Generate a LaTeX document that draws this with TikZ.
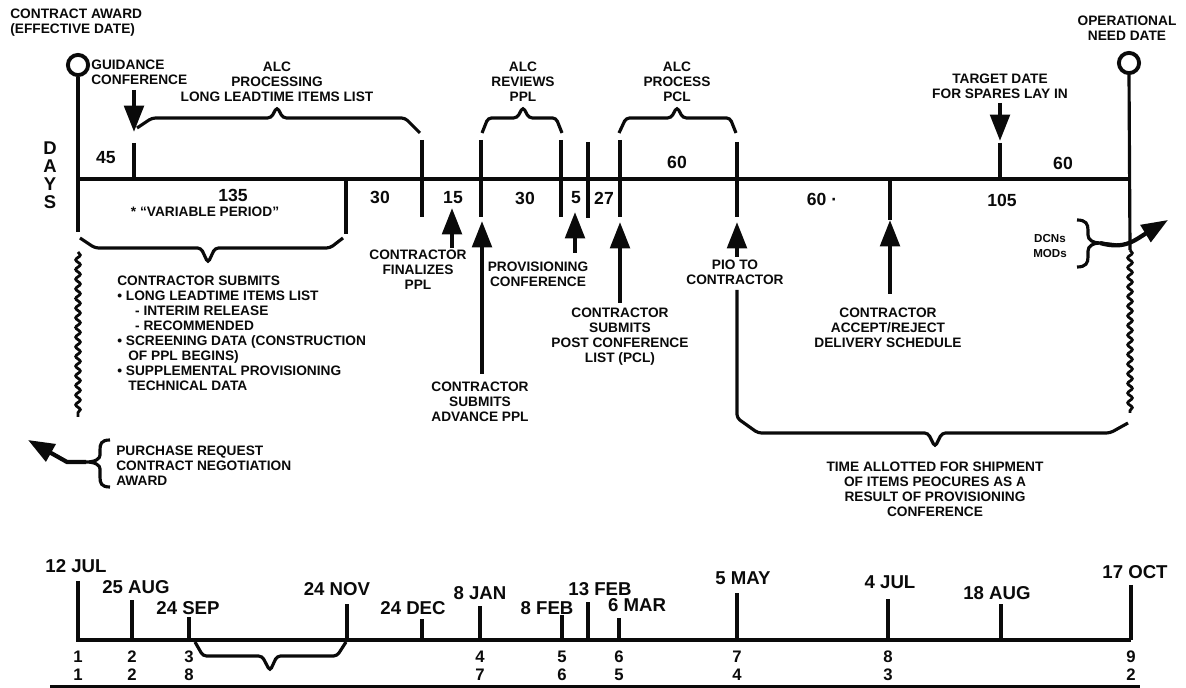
\documentclass[tikz,border=0pt]{standalone}
\usepackage{fontspec}
\setmainfont{Liberation Sans}
\usepackage{tikz}
\usetikzlibrary{arrows.meta,positioning,decorations.pathmorphing}
\definecolor{ink}{RGB}{10,10,10}

\begin{document}
\begin{tikzpicture}[x=0.02cm, y=-0.02cm, every node/.style={inner sep=0pt, text=ink},
  lbl/.style={font=\fontsize{7.8}{8.5}\selectfont\bfseries, align=center},
  numlbl/.style={font=\fontsize{10}{12}\selectfont\bfseries},
  datelbl/.style={font=\fontsize{10.6}{12}\selectfont\bfseries},
  digitlbl/.style={font=\fontsize{9.5}{11}\selectfont\bfseries},
  tline/.style={ink, line width=1.8pt},
  tickln/.style={ink, line width=2.2pt},
  arr/.style={ink, line width=2.4pt, -{Triangle[length=15pt, width=11pt]}},
  bracket/.style={ink, line width=1.8pt, rounded corners=2pt},
  wavy/.style={ink, line width=1.6pt, decorate, decoration={snake, segment length=5.5pt, amplitude=1.3pt}},
  ring/.style={circle, draw=ink, line width=2.2pt, minimum size=11.5pt}]
  \useasboundingbox (0,0) rectangle (1186,688);
  \node[ring] (startRing) at (78,65) {};
  \node[ring] (needRing) at (1129,63) {};
  \draw[tline] (startRing.south) -- (78,232);
  \draw[tline] (needRing.south) -- (1130,250);
  \draw[tline] (78,179) -- (1130,179);
  \foreach \x/\a/\b in {134/143/179, 346/179/234, 422/140/217, 481/140/217, 561/140/217, 588/142/218, 620/140/217, 737/142/217, 890/179/220, 1000/143/179}
    \draw[tickln] (\x,\a) -- (\x,\b);
  \node[lbl, anchor=west, align=left] (award) at (10,23) {CONTRACT AWARD\\(EFFECTIVE DATE)};
  \node[lbl, anchor=west, align=left] (guide) at (91,72) {GUIDANCE\\CONFERENCE};
  \node[lbl] (alcProc) at (277,82) {ALC\\PROCESSING\\LONG LEADTIME ITEMS LIST};
  \node[lbl] (alcRev) at (523,82) {ALC\\REVIEWS\\PPL};
  \node[lbl] (alcPcl) at (677,82) {ALC\\PROCESS\\PCL};
  \node[lbl] (target) at (1000,86) {TARGET DATE\\FOR SPARES LAY IN};
  \node[lbl] (opNeed) at (1127,28) {OPERATIONAL\\NEED DATE};
  \foreach \c [count=\i] in {D,A,Y,S} \node[numlbl, font=\fontsize{10.5}{12}\selectfont\bfseries] (days\i) at (50,130+18*\i) {\c};
  \foreach \x/\y/\t [count=\i] in {106/158/45, 233/195/135, 380/197/30, 453/198/15, 525/198/30, 576/198/5, 604/198/27, 677/162/60, 822/199/60 ·, 1002/200/105, 1063/163/60}
    \node[numlbl] (span\i) at (\x,\y) {\t};
  \node[lbl] (varPer) at (205,212) {*\ ``VARIABLE PERIOD''};
  \draw[bracket] (137,128) -- (152,118) -- (271,118) -- (277,107) -- (283,118) -- (405,118) -- (420,133);
  \draw[bracket] (482,133) -- (488,118) -- (517,118) -- (523,107) -- (529,118) -- (556,118) -- (562,133);
  \draw[bracket] (619,133) -- (626,118) -- (671,118) -- (677,107) -- (683,118) -- (730,118) -- (736,133);
  \draw[bracket] (80,238) -- (95,248) -- (201,248) -- (208,263) -- (215,248) -- (330,248) -- (343,238);
  \draw[wavy] (78,252) -- (78,417);
  \node[lbl, anchor=north west, align=left] (submits) at (117,276) {CONTRACTOR SUBMITS\\
    •\ LONG LEADTIME ITEMS LIST\\
    \hspace*{1.3em}- INTERIM RELEASE\\
    \hspace*{1.3em}- RECOMMENDED\\
    •\ SCREENING DATA (CONSTRUCTION\\
    \hspace*{0.8em}OF PPL BEGINS)\\
    •\ SUPPLEMENTAL PROVISIONING\\
    \hspace*{0.8em}TECHNICAL DATA};
  \node[lbl, anchor=west, align=left] (purch) at (116,466) {PURCHASE REQUEST\\CONTRACT NEGOTIATION\\AWARD};
  \coordinate (purchTip) at (86,462);
  \coordinate (purchOut) at (28,440);
  \draw[tline] (110,440) .. controls (101,440) and (100,444) .. (100,450) -- (100,455) .. controls (100,459) and (95,462) .. (purchTip)
    .. controls (95,462) and (100,465) .. (100,469) -- (100,477) .. controls (100,483) and (101,487) .. (110,487);
  \draw[arr] (purchTip) -- (67,462) -- (purchOut);
  \foreach \n/\x/\a/\b in {gc/134/90/132, fin/452/248/208, adv/482/374/221, prov/575/253/212, pcl/620/303/222, pio/737/257/222, acc/890/294/220, tgt/1000/103/141} {
    \coordinate (\n-tail) at (\x,\a); \coordinate (\n-tip) at (\x,\b);
    \draw[arr] (\n-tail) -- (\n-tip);
  }
  \node[lbl] (finalz) at (418,270) {CONTRACTOR\\FINALIZES\\PPL};
  \node[lbl] (advPpl) at (480,402) {CONTRACTOR\\SUBMITS\\ADVANCE PPL};
  \node[lbl] (provConf) at (538,274) {PROVISIONING\\CONFERENCE};
  \node[lbl] (postConf) at (620,337) {CONTRACTOR\\SUBMITS\\POST CONFERENCE\\LIST (PCL)};
  \node[lbl] (pioCon) at (735,272) {PIO TO\\CONTRACTOR};
  \node[lbl] (accRej) at (888,328) {CONTRACTOR\\ACCEPT/REJECT\\DELIVERY SCHEDULE};
  \draw[bracket] (737,290) -- (737,418) -- (758,433) -- (928,433) -- (935,447) -- (942,433) -- (1110,433) -- (1128,423);
  \draw[wavy] (1130,250) -- (1130,413);
  \node[lbl] (shipTime) at (935,489) {TIME ALLOTTED FOR SHIPMENT\\OF ITEMS PEOCURES AS A\\RESULT OF PROVISIONING\\CONFERENCE};
  \node[lbl, font=\fontsize{6.6}{8.2}\selectfont\bfseries] (dcn) at (1050,246) {DCNs\\MODs};
  \coordinate (dcnTip) at (1100,243);
  \coordinate (dcnOut) at (1168,220);
  \draw[tline] (1077,220) .. controls (1086,220) and (1088,224) .. (1088,230) -- (1088,235) .. controls (1088,240) and (1093,243) .. (dcnTip)
    .. controls (1093,243) and (1088,246) .. (1088,251) -- (1088,257) .. controls (1088,263) and (1086,267) .. (1077,267);
  \draw[arr] (dcnTip) .. controls (1125,250) and (1135,240) .. (dcnOut);
  \draw[tline] (78,581) -- (78,640) -- (1131,640);
  \foreach \x/\a in {132/600, 189/617, 347/604, 422/619, 480/606, 562/615, 588/602, 619/618, 737/593, 888/599, 1001/604, 1131/585}
    \draw[tickln] (\x,\a) -- (\x,640);
  \foreach \x/\y/\t [count=\i] in {76/566/12 JUL, 136/587/25 AUG, 188/608/24 SEP, 337/589/24 NOV, 413/608/24 DEC, 480/593/8 JAN, 547/608/8 FEB, 600/589/13 FEB, 637/605/6 MAR, 743/578/5 MAY, 890/582/4 JUL, 997/593/18 AUG, 1135/572/17 OCT}
    \node[datelbl] (date\i) at (\x,\y) {\t};
  \draw[bracket] (195,642) -- (203,656) -- (262,656) -- (270,671) -- (277,656) -- (337,656) -- (346,642);
  \foreach \x/\p/\q in {78/1/1, 132/2/2, 189/3/8, 480/4/7, 562/5/6, 619/6/5, 737/7/4, 888/8/3, 1131/9/2} {
    \node[digitlbl] (rowA\p) at (\x,657) {\p};
    \node[digitlbl] (rowB\p) at (\x,675) {\q};
  }
  \draw[tline, line width=1.5pt] (50,686.5) -- (1140,686.5);
\end{tikzpicture}
\end{document}
